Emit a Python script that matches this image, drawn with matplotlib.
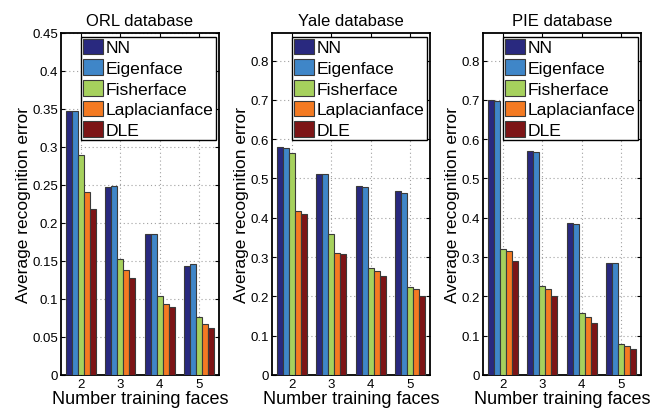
import numpy as np
import matplotlib
matplotlib.use("Agg")
import matplotlib.pyplot as plt

plt.rcParams["font.family"] = ["Liberation Sans", "DejaVu Sans"]

methods = ["NN", "Eigenface", "Fisherface", "Laplacianface", "DLE"]
colors = ["#29297f", "#3f86c8", "#a6d15d", "#f47a22", "#7d1416"]
train_faces = [2, 3, 4, 5]

orl = [
    [0.348, 0.248, 0.185, 0.144],
    [0.347, 0.249, 0.185, 0.146],
    [0.289, 0.153, 0.104, 0.076],
    [0.241, 0.138, 0.093, 0.067],
    [0.219, 0.127, 0.089, 0.062],
]
yale = [
    [0.581, 0.512, 0.480, 0.467],
    [0.578, 0.512, 0.478, 0.462],
    [0.566, 0.358, 0.272, 0.224],
    [0.416, 0.310, 0.265, 0.220],
    [0.409, 0.307, 0.253, 0.201],
]
pie = [
    [0.700, 0.570, 0.386, 0.284],
    [0.698, 0.568, 0.385, 0.285],
    [0.320, 0.227, 0.157, 0.078],
    [0.315, 0.218, 0.148, 0.073],
    [0.291, 0.202, 0.132, 0.066],
]

panels = [
    ("ORL database", orl, 0.45, np.arange(0, 0.451, 0.05), ["0"] + [f"{v:g}" for v in np.arange(0.05, 0.451, 0.05).round(2)]),
    ("Yale database", yale, 0.87, np.arange(0, 0.81, 0.1), ["0"] + [f"{v:g}" for v in np.arange(0.1, 0.81, 0.1).round(1)]),
    ("PIE database", pie, 0.87, np.arange(0, 0.81, 0.1), ["0"] + [f"{v:g}" for v in np.arange(0.1, 0.81, 0.1).round(1)]),
]
lefts = [61, 272, 483]

fig = plt.figure(figsize=(6.64, 4.14), dpi=100)
group_w = 5 / 6.5
bar_w = group_w / 5
x = np.array(train_faces, dtype=float)

for (title, data, ymax, yticks, ylabels), left in zip(panels, lefts):
    ax = fig.add_axes([left / 664, 1 - 376 / 414, 158 / 664, 342 / 414])
    for i, (name, vals, c) in enumerate(zip(methods, data, colors)):
        offs = (i - 2) * bar_w
        ax.bar(x + offs, vals, bar_w, color=c, edgecolor="#3a3a3a", linewidth=0.8, label=name, zorder=3)
    ax.set_xlim(1.5, 5.5)
    ax.set_ylim(0, ymax)
    ax.set_xticks(train_faces)
    ax.set_yticks(yticks)
    ax.set_yticklabels(ylabels)
    ax.grid(True, linestyle=(0, (1, 2.5)), color="#a0a0a0", linewidth=0.8, zorder=0)
    ax.tick_params(direction="in", top=True, right=True, labelsize=9.5, length=3, pad=2)
    for s in ax.spines.values():
        s.set_linewidth(1.3)
    ax.set_title(title, fontsize=12, pad=6)
    ax.set_xlabel("Number training faces", fontsize=13, labelpad=0)
    ax.set_ylabel("Average recognition error", fontsize=12.5, labelpad=1)
    leg = ax.legend(loc="upper right", fontsize=12.6, frameon=True, fancybox=False,
                    borderaxespad=0.2, borderpad=0.12, labelspacing=0.22,
                    handlelength=1.15, handleheight=1.0, handletextpad=0.15)
    leg.get_frame().set_edgecolor("black")
    leg.get_frame().set_linewidth(1.0)
    leg.get_frame().set_alpha(1)

fig.savefig("out.png", dpi=100)
